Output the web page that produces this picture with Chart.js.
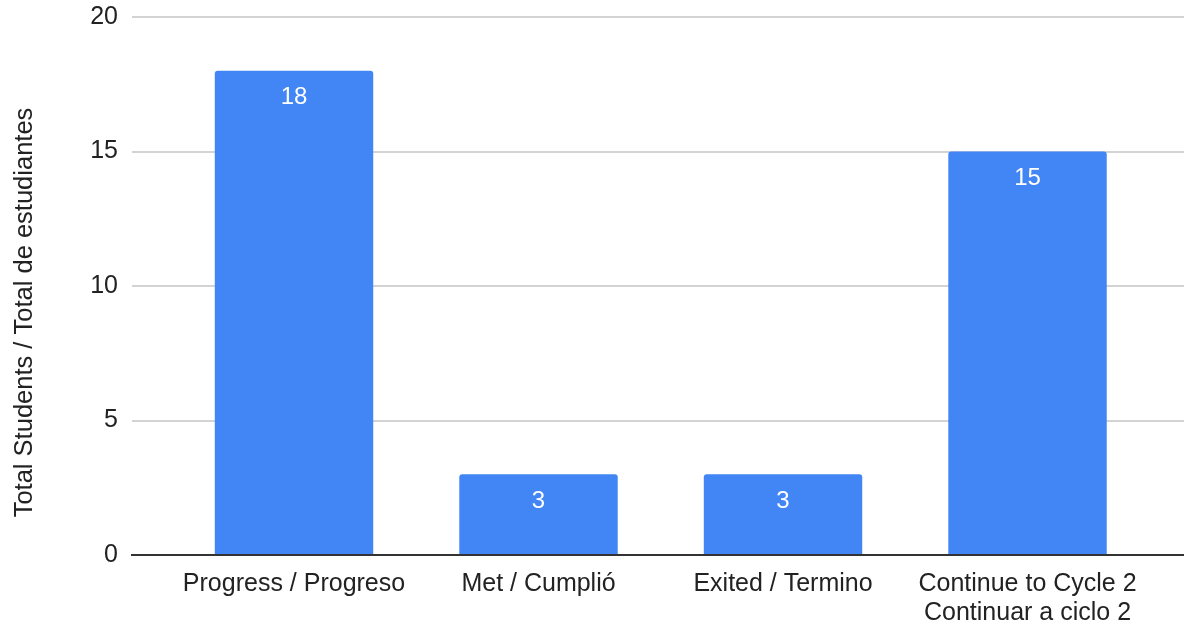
<!DOCTYPE html>
<html>
<head>
<meta charset="utf-8">
<script src="https://cdn.jsdelivr.net/npm/chart.js@4"></script>
<style>
  html, body { margin: 0; padding: 0; background: #fff; }
  #wrap { width: 1184px; height: 625px; }
</style>
</head>
<body>
<div id="wrap"><canvas id="c" width="1184" height="625"></canvas></div>
<script>
// Student outcomes per category
const categories = [
  'Progress / Progreso',
  'Met / Cumplió',
  'Exited / Termino',
  ['Continue to Cycle 2', 'Continuar a ciclo 2']
];
const totals = [18, 3, 3, 15];
const yTicks = [0, 5, 10, 15, 20];
const yTitle = 'Total Students / Total de estudiantes';

const FONT = '"Liberation Sans", Arial, sans-serif';
const BLUE = '#4285f4';

// Value labels printed inside the top of each bar
const barValueLabels = {
  id: 'barValueLabels',
  afterDatasetsDraw(chart) {
    const ctx = chart.ctx;
    const meta = chart.getDatasetMeta(0);
    ctx.save();
    ctx.fillStyle = '#ffffff';
    ctx.font = '24px ' + FONT;
    ctx.textAlign = 'center';
    ctx.textBaseline = 'middle';
    meta.data.forEach((bar, i) => {
      ctx.fillText(String(totals[i]), bar.x, bar.y + 27);
    });
    ctx.restore();
  }
};

// Vertical axis title, centred on the full canvas height
const sideTitle = {
  id: 'sideTitle',
  afterDraw(chart) {
    const ctx = chart.ctx;
    ctx.save();
    ctx.translate(25, chart.height / 2);
    ctx.rotate(-Math.PI / 2);
    ctx.fillStyle = '#222222';
    ctx.font = '25.5px ' + FONT;
    ctx.textAlign = 'center';
    ctx.textBaseline = 'middle';
    ctx.fillText(yTitle, 0, 0);
    ctx.restore();
  }
};

new Chart(document.getElementById('c'), {
  type: 'bar',
  data: {
    datasets: [{
      data: totals.map((v, i) => ({ x: i, y: v })),
      backgroundColor: BLUE,
      borderRadius: 3,
      borderSkipped: 'start',
      barPercentage: 0.648,
      categoryPercentage: 1
    }]
  },
  options: {
    responsive: false,
    animation: false,
    events: [],
    layout: { padding: { top: 17, right: 0, bottom: 0, left: 0 } },
    plugins: {
      legend: { display: false },
      tooltip: { enabled: false }
    },
    scales: {
      x: {
        type: 'linear',
        offset: false,
        min: -0.6626,
        max: 3.64,
        z: 1,
        grid: { display: false, drawTicks: false },
        border: { display: true, color: '#333333', width: 2 },
        afterBuildTicks: (s) => {
          s.ticks = categories.map((_, i) => ({ value: i }));
        },
        afterFit: (s) => { s.height = 70; },
        ticks: {
          autoSkip: false,
          maxRotation: 0,
          padding: 15,
          color: '#222222',
          font: { family: FONT, size: 25, lineHeight: 1.16 },
          callback: (v) => categories[v]
        }
      },
      y: {
        min: 0,
        max: 20,
        afterBuildTicks: (s) => {
          s.ticks = yTicks.map(v => ({ value: v }));
        },
        afterFit: (s) => { s.width = 132; },
        grid: {
          color: '#d3d3d3',
          lineWidth: 2,
          drawTicks: true,
          tickLength: 14,
          tickColor: 'rgba(0,0,0,0)'
        },
        border: { display: false },
        ticks: {
          padding: 0,
          color: '#222222',
          font: { family: FONT, size: 25 }
        }
      }
    }
  },
  plugins: [barValueLabels, sideTitle]
});
</script>
</body>
</html>
